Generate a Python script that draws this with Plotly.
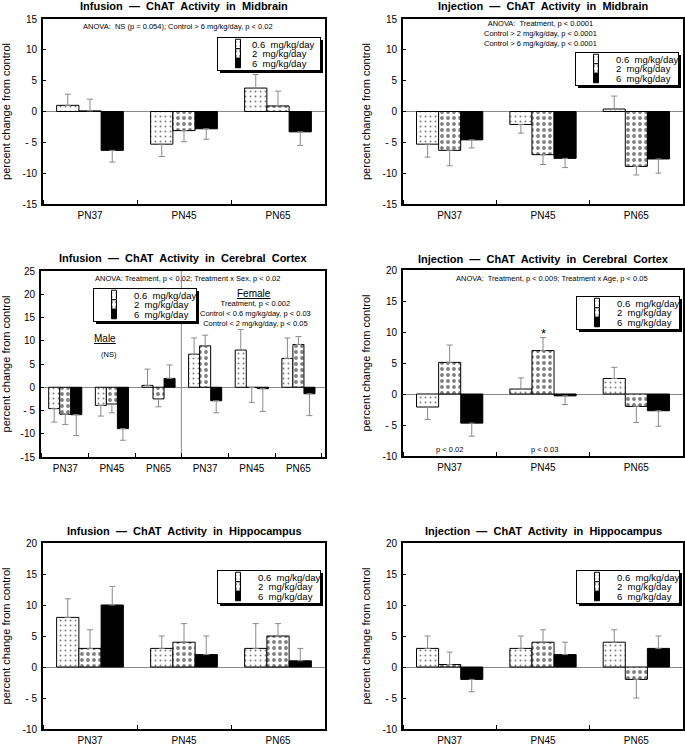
import plotly.graph_objects as go

W, H = 685, 745
FONT = "Arial, 'Liberation Sans', Helvetica, sans-serif"

# ---------------- data ----------------
dose_labels = ["0.6  mg/kg/day", "2  mg/kg/day", "6  mg/kg/day"]
ages = ["PN37", "PN45", "PN65"]
ages_sex = ["PN37", "PN45", "PN65", "PN37", "PN45", "PN65"]

# Infusion - Midbrain
inf_mid_06 = [1.0, -5.3, 3.8]
inf_mid_2 = [0.1, -3.1, 0.9]
inf_mid_6 = [-6.3, -2.8, -3.3]
inf_mid_06_se = [1.8, 2.0, 2.2]
inf_mid_2_se = [1.9, 1.8, 2.4]
inf_mid_6_se = [1.9, 1.7, 2.2]

# Injection - Midbrain
inj_mid_06 = [-5.3, -2.1, 0.4]
inj_mid_2 = [-6.3, -7.0, -8.9]
inj_mid_6 = [-4.6, -7.6, -7.7]
inj_mid_06_se = [2.1, 1.4, 2.1]
inj_mid_2_se = [2.5, 1.6, 1.4]
inj_mid_6_se = [1.3, 1.5, 2.3]

# Infusion - Cerebral Cortex (male PN37, PN45, PN65, female PN37, PN45, PN65)
inf_ctx_06 = [-4.6, -3.9, 0.4, 7.1, 8.0, 6.2]
inf_ctx_2 = [-5.8, -3.6, -2.5, 8.9, -0.05, 9.2]
inf_ctx_6 = [-5.9, -8.9, 1.9, -2.9, -0.3, -1.4]
inf_ctx_06_se = [2.9, 2.3, 3.5, 3.5, 4.4, 4.4]
inf_ctx_2_se = [2.2, 1.9, 1.7, 2.3, 3.2, 1.7]
inf_ctx_6_se = [4.5, 2.5, 2.9, 2.6, 4.9, 4.7]

# Injection - Cerebral Cortex
inj_ctx_06 = [-2.1, 0.8, 2.5]
inj_ctx_2 = [5.1, 7.0, -2.0]
inj_ctx_6 = [-4.7, -0.3, -2.7]
inj_ctx_06_se = [2.0, 1.8, 1.8]
inj_ctx_2_se = [2.8, 2.1, 2.6]
inj_ctx_6_se = [2.1, 1.4, 2.5]

# Infusion - Hippocampus
inf_hip_06 = [8, 3, 3]
inf_hip_2 = [3, 4, 5]
inf_hip_6 = [10, 2, 1]
inf_hip_06_se = [3, 2, 4]
inf_hip_2_se = [3, 3, 2]
inf_hip_6_se = [3, 3, 2]

# Injection - Hippocampus
inj_hip_06 = [3, 3, 4]
inj_hip_2 = [0.4, 4, -2]
inj_hip_6 = [-2, 2, 3]
inj_hip_06_se = [2, 2, 2]
inj_hip_2_se = [2.0, 2, 3]
inj_hip_6_se = [2, 2, 2]

yticks_15 = [-15, -10, -5, 0, 5, 10, 15]
yticks_15_text = ["-15", "-10", "- 5", "0", "5", "10", "15"]
yticks_25 = [-15, -10, -5, 0, 5, 10, 15, 20, 25]
yticks_25_text = ["-15", "-10", "- 5", "0", "5", "10", "15", "20", "25"]
yticks_20 = [-10, -5, 0, 5, 10, 15, 20]
yticks_20_text = ["-10", "- 5", "0", "5", "10", "15", "20"]

# ---------------- styling ----------------
patterns = [
    dict(shape=".", size=5, solidity=0.12, fgcolor="black", bgcolor="white"),
    dict(shape=".", size=6, solidity=0.32, fgcolor="black", bgcolor="white"),
    None,
]
fills = ["white", "white", "black"]
ERR_COLOR = "#8a8a8a"


def px_x(p):
    return p / W


def px_y(p):
    return 1 - p / H


panels = [
    dict(n=1, xd=(43, 325), yd=(19, 204), cats=ages,
         series=[(inf_mid_06, inf_mid_06_se), (inf_mid_2, inf_mid_2_se), (inf_mid_6, inf_mid_6_se)],
         yr=(-15, 15), tv=yticks_15, tt=yticks_15_text, leg=(217, 37)),
    dict(n=2, xd=(403, 683), yd=(19, 204), cats=ages,
         series=[(inj_mid_06, inj_mid_06_se), (inj_mid_2, inj_mid_2_se), (inj_mid_6, inj_mid_6_se)],
         yr=(-15, 15), tv=yticks_15, tt=yticks_15_text, leg=(575, 52)),
    dict(n=3, xd=(41, 325), yd=(271, 457), cats=ages_sex,
         series=[(inf_ctx_06, inf_ctx_06_se), (inf_ctx_2, inf_ctx_2_se), (inf_ctx_6, inf_ctx_6_se)],
         yr=(-15, 25), tv=yticks_25, tt=yticks_25_text, leg=(93, 288)),
    dict(n=4, xd=(403, 683), yd=(270, 456), cats=ages,
         series=[(inj_ctx_06, inj_ctx_06_se), (inj_ctx_2, inj_ctx_2_se), (inj_ctx_6, inj_ctx_6_se)],
         yr=(-10, 20), tv=yticks_20, tt=yticks_20_text, leg=(576, 296)),
    dict(n=5, xd=(43, 325), yd=(543, 729), cats=ages,
         series=[(inf_hip_06, inf_hip_06_se), (inf_hip_2, inf_hip_2_se), (inf_hip_6, inf_hip_6_se)],
         yr=(-10, 20), tv=yticks_20, tt=yticks_20_text, leg=(217, 570)),
    dict(n=6, xd=(403, 683), yd=(543, 729), cats=ages,
         series=[(inj_hip_06, inj_hip_06_se), (inj_hip_2, inj_hip_2_se), (inj_hip_6, inj_hip_6_se)],
         yr=(-10, 20), tv=yticks_20, tt=yticks_20_text, leg=(576, 570)),
]

fig = go.Figure()
layout = dict(
    width=W, height=H, margin=dict(l=0, r=0, t=0, b=0, autoexpand=False),
    paper_bgcolor="white", plot_bgcolor="white",
    barmode="group", bargap=0.29, bargroupgap=0,
    font=dict(family=FONT, size=10, color="black"),
    annotations=[], shapes=[],
)

for p in panels:
    n = p["n"]
    sfx = "" if n == 1 else str(n)
    xa, ya = "x" + sfx, "y" + sfx
    legname = "legend" + sfx
    xs = list(range(len(p["cats"])))
    for i, (vals, ses) in enumerate(p["series"]):
        up = [s if v >= 0 else 0 for v, s in zip(vals, ses)]
        dn = [s if v < 0 else 0 for v, s in zip(vals, ses)]
        marker = dict(color=fills[i], line=dict(color="black", width=1))
        if patterns[i] is not None:
            marker["pattern"] = patterns[i]
        fig.add_trace(go.Bar(
            x=xs, y=vals, name=dose_labels[i], xaxis=xa, yaxis=ya,
            marker=marker, offsetgroup=str(i), legend=legname,
            error_y=dict(type="data", symmetric=False, array=up, arrayminus=dn,
                         color=ERR_COLOR, thickness=1, width=3),
            hoverinfo="skip",
        ))
    ncat = len(p["cats"])
    xr = (-0.52, 5.57) if ncat == 6 else (-0.5, 2.5)
    layout["xaxis" + sfx] = dict(
        domain=[px_x(p["xd"][0]), px_x(p["xd"][1])], anchor=ya, range=list(xr),
        tickmode="array", tickvals=xs, ticktext=p["cats"], ticks="",
        showline=True, mirror=True, linecolor="black", linewidth=2,
        showgrid=False, zeroline=False, fixedrange=True, automargin=False,
        tickfont=dict(size=10, family=FONT), ticklabelstandoff=1,
        minor=dict(tick0=0.5, dtick=1, ticks="inside", ticklen=4, tickwidth=1, tickcolor="black"),
    )
    layout["yaxis" + sfx] = dict(
        domain=[px_y(p["yd"][1]), px_y(p["yd"][0])], anchor=xa, range=list(p["yr"]),
        tickmode="array", tickvals=p["tv"], ticktext=p["tt"],
        ticks="inside", ticklen=3, tickwidth=1, tickcolor="black",
        showline=True, mirror=True, linecolor="black", linewidth=2,
        showgrid=False, zeroline=True, zerolinecolor=ERR_COLOR, zerolinewidth=1,
        tickfont=dict(size=10, family=FONT), ticklabelstandoff=2, automargin=False,
        title=dict(text="percent change from control", font=dict(size=11, family=FONT), standoff=10),
        fixedrange=True,
    )
    layout[legname] = dict(
        x=px_x(p["leg"][0]), y=px_y(p["leg"][1]), xanchor="left", yanchor="top",
        bgcolor="white", bordercolor="black", borderwidth=1,
        font=dict(size=9.5, family=FONT), tracegroupgap=0, itemwidth=30,
    )

# Titles
titles = [
    ("Infusion  —  ChAT  Activity  in  Midbrain", 184, 6),
    ("Injection  —  ChAT  Activity  in  Midbrain", 543, 6),
    ("Infusion  —  ChAT  Activity  in  Cerebral  Cortex", 183, 258),
    ("Injection  —  ChAT  Activity  in  Cerebral  Cortex", 543, 259),
    ("Infusion  —  ChAT  Activity  in  Hippocampus", 184, 531),
    ("Injection  —  ChAT  Activity  in  Hippocampus", 543, 531),
]
for t, cx, cy in titles:
    layout["annotations"].append(dict(
        text="<b>" + t + "</b>", x=px_x(cx), y=px_y(cy), xref="paper", yref="paper",
        xanchor="center", yanchor="middle", showarrow=False,
        font=dict(size=11, family=FONT, color="black"),
    ))

small = dict(size=7.5, family=FONT, color="black")


def note(text, x, y, xref, yref, font=small):
    layout["annotations"].append(dict(
        text=text, x=x, y=y, xref=xref, yref=yref, xanchor="center", yanchor="middle",
        showarrow=False, font=font, align="center",
    ))


note("ANOVA:  NS (p = 0.054); Control > 6 mg/kg/day, p < 0.02", 0.94, 13.8, "x", "y")
note("ANOVA:  Treatment, p < 0.0001<br>Control > 2 mg/kg/day, p < 0.0001<br>"
     "Control > 6 mg/kg/day, p < 0.0001", 0.97, 12.6, "x2", "y2")

note("ANOVA: Treatment, p < 0.02; Treatment x Sex, p < 0.02", 2.62, 23.4, "x3", "y3")
note("<u>Male</u>", 0.86, 10.4, "x3", "y3", dict(size=10, family=FONT, color="black"))
note("(NS)", 0.93, 7.1, "x3", "y3")
note("<u>Female</u>", 4.05, 20.2, "x3", "y3", dict(size=10, family=FONT, color="black"))
note("Treatment, p < 0.002<br>Control < 0.6 mg/kg/day, p < 0.03<br>"
     "Control < 2 mg/kg/day, p < 0.05", 4.07, 15.9, "x3", "y3")

note("ANOVA:  Treatment, p < 0.009; Treatment x Age, p < 0.05", 1.1, 18.7, "x4", "y4")
note("*", 1.0, 9.8, "x4", "y4", dict(size=13, family=FONT, color="black"))
note("p < 0.02", 0.0, -8.9, "x4", "y4")
note("p < 0.03", 1.02, -8.9, "x4", "y4")

# divider between male and female groups
layout["shapes"].append(dict(
    type="line", xref="x3", yref="y3", x0=2.49, x1=2.49, y0=-15, y1=25,
    line=dict(color=ERR_COLOR, width=1), layer="below",
))

fig.update_layout(**layout)

post_js = r"""
(function(){
  document.documentElement.style.margin='0';
  document.documentElement.style.overflow='hidden';
  document.body.style.margin='0';
  document.body.style.padding='0';
  document.body.style.overflow='hidden';
  var gd=document.getElementById('{plot_id}');
  gd.style.position='absolute'; gd.style.left='0px'; gd.style.top='0px';
  gd.style.overflow='hidden';
  var STEP=9.5, FIRST=7, TEXTX=34;
  var names=['legend','legend2','legend3','legend4','legend5','legend6'];
  names.forEach(function(nm){
    gd.querySelectorAll('g.infolayer > g.'+nm).forEach(function(lg){
      try{
        var tr=lg.querySelectorAll('g.traces');
        tr.forEach(function(t,i){
          var m=/translate\(\s*([-\d.e]+)[\s,]+([-\d.e]+)\s*\)/.exec(t.getAttribute('transform')||'');
          var x=m?parseFloat(m[1]):1;
          t.setAttribute('transform','translate('+x+','+(FIRST+i*STEP)+')');
          t.querySelectorAll('g.legendpoints path').forEach(function(p){
            p.setAttribute('d','M2.5,4.75H-2.5V-4.75H2.5Z');
          });
          var tx=t.querySelector('text.legendtext');
          if(tx){ tx.setAttribute('x', TEXTX); }
        });
        var bg=lg.querySelector('rect.bg');
        var h=FIRST+(tr.length-1)*STEP+FIRST;
        bg.setAttribute('height',h);
        var w=parseFloat(bg.getAttribute('width'))-6;
        bg.setAttribute('width',w);
        var sh=bg.cloneNode(false);
        sh.setAttribute('class','legshadow');
        sh.style.fill='rgb(0,0,0)'; sh.style.stroke='none';
        sh.setAttribute('x', parseFloat(bg.getAttribute('x')||0)+2.5);
        sh.setAttribute('y', parseFloat(bg.getAttribute('y')||0)+2.5);
        bg.parentNode.insertBefore(sh,bg);
      }catch(e){}
    });
  });
})();
"""

fig.write_html("out.html", include_plotlyjs=True, config=dict(staticPlot=True), post_script=post_js)
